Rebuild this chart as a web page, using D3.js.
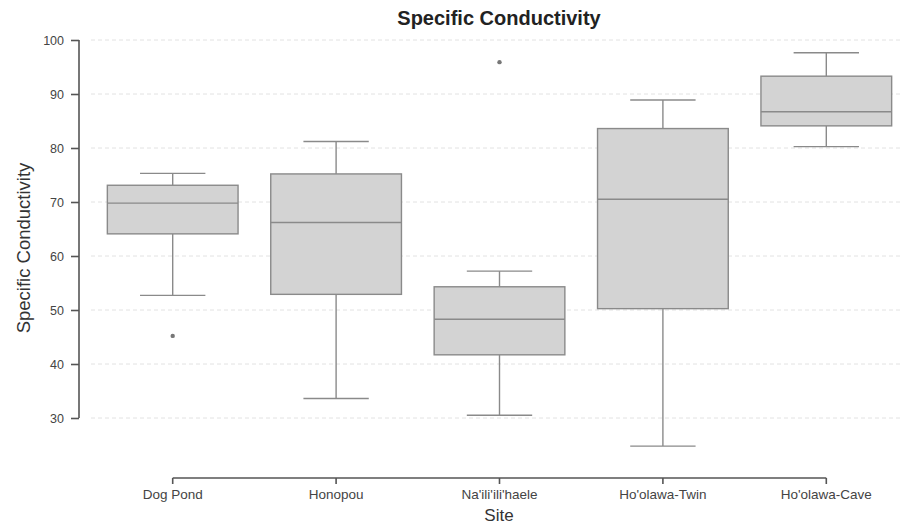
<!DOCTYPE html>
<html>
<head>
<meta charset="utf-8">
<script src="https://cdn.jsdelivr.net/npm/d3@7"></script>
<style>
  body { margin: 0; background: #fff; }
  svg { display: block; font-family: "Liberation Sans", Arial, sans-serif; }
</style>
</head>
<body>
<div id="chart"></div>
<script>
// box plot of specific conductivity per site
const sites    = ["Dog Pond", "Honopou", "Na'ili'ili'haele", "Ho'olawa-Twin", "Ho'olawa-Cave"];
const whiskLo  = [52.7, 33.6, 30.5, 24.8, 80.25];
const q1       = [64.1, 52.9, 41.7, 50.25, 84.1];
const medians  = [69.8, 66.2, 48.3, 70.5, 86.7];
const q3       = [73.1, 75.2, 54.3, 83.6, 93.3];
const whiskHi  = [75.3, 81.2, 57.2, 88.9, 97.65];
const outliers = [[45.2], [], [95.9], [], []];
const yTicks   = [30, 40, 50, 60, 70, 80, 90, 100];

const width = 902, height = 526;
const boxes = sites.map((s, i) => ({
  site: s, lo: whiskLo[i], q1: q1[i], med: medians[i], q3: q3[i], hi: whiskHi[i], out: outliers[i]
}));

const svg = d3.select("#chart").append("svg")
  .attr("width", width).attr("height", height);

const x = d3.scaleBand().domain(sites).range([91, 908]).paddingInner(0).paddingOuter(0);
const y = d3.scaleLinear().domain([30, 100]).range([418, 40]);
const xAxisY = 478, yAxisX = 79;
const boxW = x.step() * 0.8;
const cx = d => x(d.site) + x.bandwidth() / 2;

// grid
svg.append("g").selectAll("line").data(yTicks).join("line")
  .attr("x1", 91).attr("x2", width)
  .attr("y1", d => y(d)).attr("y2", d => y(d))
  .attr("stroke", "#e2e2e2").attr("stroke-width", 1)
  .attr("stroke-dasharray", "4,3");

// axes (trimmed spines)
const yAxis = d3.axisLeft(y).tickValues(yTicks).tickSize(8).tickPadding(7).tickSizeOuter(0);
const yG = svg.append("g").attr("transform", `translate(${yAxisX},0)`).call(yAxis);
yG.select(".domain").attr("d", `M0,${y(30)}V${y(100)}`);

const xAxis = d3.axisBottom(x).tickSize(6).tickPadding(5).tickSizeOuter(0);
const xG = svg.append("g").attr("transform", `translate(0,${xAxisY})`).call(xAxis);
xG.select(".domain").attr("d", `M${x(sites[0]) + x.bandwidth() / 2},0H${x(sites[4]) + x.bandwidth() / 2}`);

svg.selectAll(".domain, .tick line").attr("stroke", "#555").attr("stroke-width", 1.6);
yG.selectAll(".tick text").attr("fill", "#444").style("font-size", "12.5px");
xG.selectAll(".tick text").attr("fill", "#444").style("font-size", "13.5px");

// boxes
const bg = svg.append("g").selectAll("g").data(boxes).join("g");
const stroke = "#8a8a8a";
bg.append("line")
  .attr("x1", cx).attr("x2", cx).attr("y1", d => y(d.lo)).attr("y2", d => y(d.q1))
  .attr("stroke", stroke).attr("stroke-width", 1.4);
bg.append("line")
  .attr("x1", cx).attr("x2", cx).attr("y1", d => y(d.q3)).attr("y2", d => y(d.hi))
  .attr("stroke", stroke).attr("stroke-width", 1.4);
bg.append("rect")
  .attr("x", d => cx(d) - boxW / 2).attr("width", boxW)
  .attr("y", d => y(d.q3)).attr("height", d => y(d.q1) - y(d.q3))
  .attr("fill", "#d3d3d3").attr("stroke", stroke).attr("stroke-width", 1.4);
bg.append("line")
  .attr("x1", d => cx(d) - boxW / 2).attr("x2", d => cx(d) + boxW / 2)
  .attr("y1", d => y(d.med)).attr("y2", d => y(d.med))
  .attr("stroke", stroke).attr("stroke-width", 1.4);
["lo", "hi"].forEach(k => {
  bg.append("line")
    .attr("x1", d => cx(d) - boxW / 4).attr("x2", d => cx(d) + boxW / 4)
    .attr("y1", d => y(d[k])).attr("y2", d => y(d[k]))
    .attr("stroke", stroke).attr("stroke-width", 1.4);
});
bg.selectAll("circle").data(d => d.out.map(v => ({ v, d }))).join("circle")
  .attr("cx", o => cx(o.d)).attr("cy", o => y(o.v)).attr("r", 2.2)
  .attr("fill", "#777");

// labels
svg.append("text")
  .attr("x", 499).attr("y", 25).attr("text-anchor", "middle")
  .attr("fill", "#222").style("font-size", "20px").style("font-weight", "bold")
  .text("Specific Conductivity");
svg.append("text")
  .attr("transform", `translate(30,248) rotate(-90)`).attr("text-anchor", "middle")
  .attr("fill", "#333").style("font-size", "18.5px")
  .text("Specific Conductivity");
svg.append("text")
  .attr("x", 499).attr("y", 521).attr("text-anchor", "middle")
  .attr("fill", "#333").style("font-size", "17px")
  .text("Site");
</script>
</body>
</html>
